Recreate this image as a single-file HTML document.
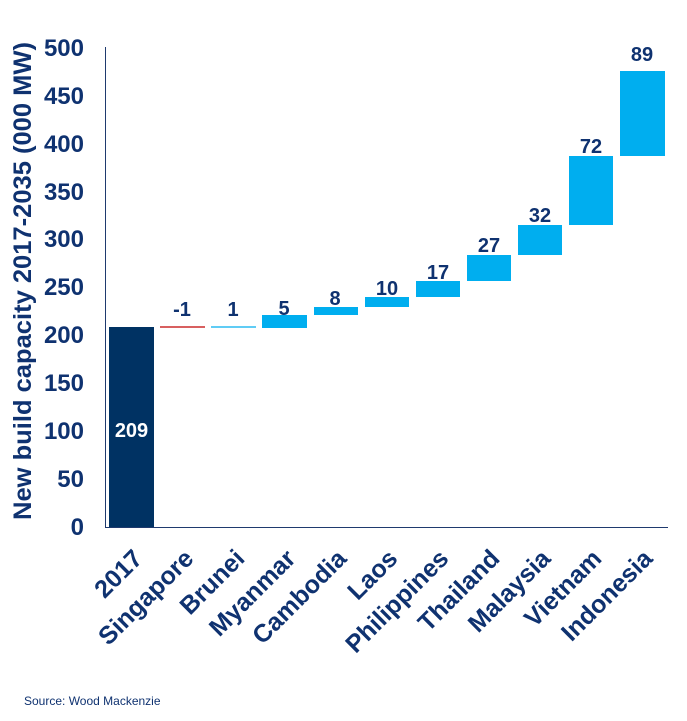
<!DOCTYPE html>
<html><head><style>
body{margin:0;background:#fff;}
svg{display:block;font-family:"Liberation Sans",Arial,sans-serif;}
</style></head><body>
<svg width="687" height="721" viewBox="0 0 687 721">
<g fill="#0f3270" font-weight="bold" font-size="24" text-anchor="end">
<text x="84" y="535">0</text>
<text x="84" y="487">50</text>
<text x="84" y="439">100</text>
<text x="84" y="391">150</text>
<text x="84" y="343">200</text>
<text x="84" y="295">250</text>
<text x="84" y="247">300</text>
<text x="84" y="200">350</text>
<text x="84" y="152">400</text>
<text x="84" y="104">450</text>
<text x="84" y="56">500</text>
</g>
<text transform="translate(31,281) rotate(-90)" text-anchor="middle" fill="#0f3270" font-weight="bold" font-size="25" textLength="478" lengthAdjust="spacingAndGlyphs">New build capacity 2017-2035 (000 MW)</text>
<line x1="105.5" y1="47" x2="105.5" y2="528" stroke="#1f3a6e" stroke-width="1"/>
<line x1="105" y1="527.5" x2="668" y2="527.5" stroke="#1f3a6e" stroke-width="1"/>
<rect x="109" y="327" width="45" height="200" fill="#003263"/>
<text x="131.5" y="437" text-anchor="middle" fill="#fff" font-weight="bold" font-size="20">209</text>
<line x1="160" y1="327" x2="205" y2="327" stroke="#c00000" stroke-width="1.2"/>
<line x1="211" y1="327" x2="256" y2="327" stroke="#00aeef" stroke-width="1.2"/>
<g fill="#00aeef">
<rect x="262" y="315" width="45" height="13"/>
<rect x="314" y="307" width="44" height="8"/>
<rect x="365" y="297" width="44" height="10"/>
<rect x="416" y="281" width="44" height="16"/>
<rect x="467" y="255" width="44" height="26"/>
<rect x="518" y="225" width="44" height="30"/>
<rect x="569" y="156" width="44" height="69"/>
<rect x="620" y="71" width="45" height="85"/>
</g>
<g fill="#0f3270" font-weight="bold" font-size="20" text-anchor="middle">
<text x="182" y="316">-1</text>
<text x="233" y="316">1</text>
<text x="284" y="315">5</text>
<text x="335" y="305">8</text>
<text x="387" y="295">10</text>
<text x="438" y="279">17</text>
<text x="489" y="252">27</text>
<text x="540" y="222">32</text>
<text x="591" y="153">72</text>
<text x="642" y="61">89</text>
</g>
<g fill="#0f3270" font-weight="bold" font-size="25" text-anchor="end">
<text transform="translate(144,560) rotate(-45)">2017</text>
<text transform="translate(195,560) rotate(-45)">Singapore</text>
<text transform="translate(246,560) rotate(-45)">Brunei</text>
<text transform="translate(297,560) rotate(-45)">Myanmar</text>
<text transform="translate(348,560) rotate(-45)">Cambodia</text>
<text transform="translate(399,560) rotate(-45)">Laos</text>
<text transform="translate(450,560) rotate(-45)">Philippines</text>
<text transform="translate(501,560) rotate(-45)">Thailand</text>
<text transform="translate(552,560) rotate(-45)">Malaysia</text>
<text transform="translate(603,560) rotate(-45)">Vietnam</text>
<text transform="translate(654,560) rotate(-45)">Indonesia</text>
</g>
<text x="24" y="705" fill="#0f3270" font-size="12">Source: Wood Mackenzie</text>
</svg>
</body></html>
